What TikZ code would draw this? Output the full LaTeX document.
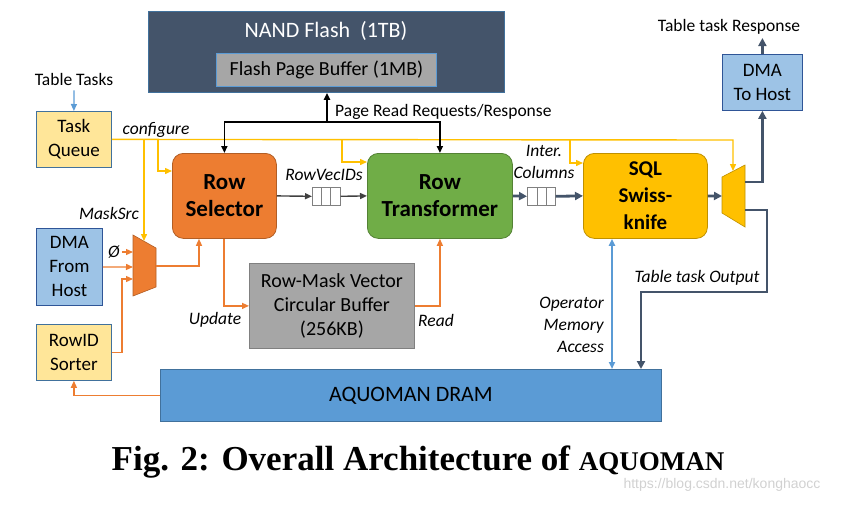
\documentclass[tikz,border=0pt]{standalone}
\usepackage{fontspec}
\setmainfont{Carlito}
\newfontfamily\capfont{Liberation Serif}
\newfontfamily\wmfont{Liberation Sans}
\usetikzlibrary{arrows.meta}
\definecolor{slate}{HTML}{44546A}
\definecolor{edgeblue}{HTML}{2F5597}
\definecolor{midblue}{HTML}{41719C}
\definecolor{skyblue}{HTML}{9DC3E6}
\definecolor{dramblue}{HTML}{5B9BD5}
\definecolor{taskyellow}{HTML}{FFE699}
\definecolor{rsorange}{HTML}{ED7D31}
\definecolor{rtgreen}{HTML}{70AD47}
\definecolor{sqlgold}{HTML}{FFC000}
\definecolor{bufgray}{HTML}{A6A6A6}

\begin{document}
\begin{tikzpicture}[x=1pt, y=-1pt,
    unit/.style={draw=edgeblue, line width=0.8pt, anchor=north west, inner sep=0pt,
        align=center, font=\fontsize{19}{24}\selectfont},
    engine/.style={draw=#1!75!black, fill=#1, line width=0.8pt, rounded corners=11pt,
        anchor=north west, inner sep=0pt, align=center,
        font=\fontsize{23}{27}\selectfont\bfseries},
    fifo/.style={draw=gray, fill=white, line width=0.6pt, anchor=north west,
        minimum width=28, minimum height=18, inner sep=0pt},
    lbl/.style={font=\fontsize{17.5}{22}\selectfont\itshape, inner sep=0pt},
    txt/.style={font=\fontsize{17.5}{21}\selectfont, inner sep=0pt},
    tip/.style={-{Triangle[length=7pt,width=6pt]}},
    cfg/.style={tip, draw=sqlgold, line width=1.4pt},
    org/.style={tip, draw=rsorange, line width=1.3pt},
    pagebus/.style={tip, draw=black, line width=1.8pt},
    vec/.style={tip, draw=black!75, line width=1.4pt},
    colbus/.style={-{Triangle[length=8pt,width=8pt]}, draw=slate, line width=2.8pt},
    membus/.style={{Triangle[length=7pt,width=6pt]}-{Triangle[length=7pt,width=6pt]},
        draw=dramblue, line width=1.8pt}]

% frame
\useasboundingbox (0,0) rectangle (841,504);

% NAND flash with its page buffer
\node[unit, draw=midblue, fill=slate, minimum width=356, minimum height=81] (nand) at (148,11) {};
\node[text=white, font=\fontsize{22}{24}\selectfont] (nandtxt) at (326,31) {NAND Flash\ \ (1TB)};
\node[unit, draw=dramblue, fill=bufgray, minimum width=220, minimum height=33,
    font=\fontsize{20}{22}\selectfont] (fpb) at (216,53) {Flash Page Buffer (1MB)};

% host side boxes
\node[unit, draw=midblue, fill=taskyellow, minimum width=75, minimum height=56] (tq) at (36,111) {Task\\Queue};
\node[unit, fill=skyblue, minimum width=66, minimum height=77] (dfh) at (36,228) {DMA\\From\\Host};
\node[unit, draw=midblue, fill=taskyellow, minimum width=75, minimum height=56] (rid) at (36,324) {RowID\\Sorter};
\node[unit, fill=skyblue, minimum width=80, minimum height=56] (dth) at (722,54) {DMA\\To Host};

% engines
\node[engine=rsorange, minimum width=104, minimum height=85] (rs) at (172,153) {Row\\Selector};
\node[engine=rtgreen, minimum width=145, minimum height=85] (rt) at (367,153) {Row\\Transformer};
\node[engine=sqlgold, minimum width=124, minimum height=85,
    font=\fontsize{21}{27}\selectfont\bfseries] (sql) at (583,153) {SQL\\Swiss-\\knife};

% buffer and dram
\node[unit, draw=gray, fill=bufgray, minimum width=165, minimum height=85,
    font=\fontsize{20}{24}\selectfont] (buf) at (249,263)
    {Row-Mask Vector\\Circular Buffer\\(256KB)};
\node[unit, draw=midblue, fill=dramblue, minimum width=501, minimum height=52,
    font=\fontsize{22}{24}\selectfont] (dram) at (160,369) {AQUOMAN DRAM};

% fifos
\node[fifo] (q1) at (312,187) {};
\node[fifo] (q2) at (527,187) {};
\draw[gray, line width=0.6pt] (321,187) -- (321,205) (330,187) -- (330,205)
    (537,187) -- (537,205) (546,187) -- (546,205);

% muxes
\coordinate (m1top) at (144,241);
\coordinate (m1a) at (133,252);
\coordinate (m1b) at (133,267);
\coordinate (m1c) at (133,279);
\coordinate (m1out) at (156,266);
\draw[fill=rsorange, draw=rsorange!75!black, line width=0.6pt]
    (133,235) -- (156,248) -- (156,287) -- (133,296) -- cycle;
\coordinate (m2top) at (733,171);
\coordinate (m2in) at (722,196);
\coordinate (m2a) at (745,182);
\coordinate (m2b) at (745,210);
\draw[fill=sqlgold, draw=sqlgold!75!black, line width=0.6pt]
    (722,177) -- (745,165) -- (745,227) -- (722,213) -- cycle;

% labels
\node[txt] (tt) at (74,79) {Table Tasks};
\node[txt] (ttr) at (729,27) {Table task Response};
\node[lbl] (cfgl) at (156,130) {configure};
\node[lbl] (msk) at (109,213) {MaskSrc};
\node[lbl] (phi) at (114,252) {Ø};
\node[lbl] (rvl) at (324,175) {RowVecIDs};
\node[lbl, align=center] (icl) at (544,162) {Inter.\\Columns};
\node[lbl] (upl) at (215,320) {Update};
\node[lbl] (rdl) at (436,320) {Read};
\node[lbl, align=right, anchor=east] (oma) at (604,325) {Operator\\Memory\\Access};
\node[lbl] (tto) at (697,278) {Table task Output};
\node[txt, anchor=west] (prl) at (335,112) {Page Read Requests/Response};

% host input
\draw[tip, draw=dramblue, line width=1.2pt] (tt.south) ++(0,-5pt) -- (tq.north);

% configure lines
\coordinate (c0) at (733,140);
\coordinate (c1) at (144,140);
\coordinate (c2) at (158,140);
\coordinate (c3) at (342,140);
\coordinate (c4) at (570,140);
\draw[cfg] (tq.east) -- (c0) -- (m2top);
\draw[cfg] (c1) -- (m1top);
\draw[cfg] (c2) |- ([yshift=-18pt]rs.north west);
\draw[cfg] (c3) |- ([yshift=-9pt]rt.north west);
\draw[cfg] (c4) |- ([yshift=-10pt]sql.north west);

% page read bus
\coordinate (pr) at (327,122);
\draw[pagebus] (pr) -- (pr |- nand.south);
\draw[pagebus] (pr) -| (rs.north);
\draw[pagebus] (pr) -| (rt.north);

% row vector path
\draw[vec] (rs.east) -- (q1.west);
\draw[vec] (q1.east) -- (rt.west);
\draw[colbus] (rt.east) -- (q2.west);
\draw[colbus] (q2.east) -- (sql.west);
\draw[colbus] (sql.east) -- (m2in);
\draw[colbus] (m2a) -| (dth.south);
\draw[colbus] (dth.north) -- ++(0,16pt) coordinate (resp);
\coordinate (o1) at (767,292);
\draw[colbus] (m2b) -| (o1) -| ([xshift=481pt]dram.north west);
\draw[membus] ([xshift=29pt]sql.south west) -- ([xshift=452pt]dram.north west);

% mask sources
\coordinate (j1) at (122,279);
\draw[org] (phi.east) ++(2pt,0) -- (m1a);
\draw[org] (dfh.east) -- (m1b);
\draw[org] (rid.east) -| (j1) -- (m1c);
\draw[org] (m1out) -| ([xshift=27pt]rs.south west);
\draw[org] ([xshift=52pt]rs.south west) |- (buf.west);
\draw[org] (buf.east) -| (rt.south);
\draw[org] (dram.west) -| (rid.south);

% caption
\node[font=\capfont\fontsize{35}{38}\selectfont\bfseries] (cap) at (418,462)
    {Fig. 2: Overall Architecture of {\fontsize{27}{30}\selectfont AQUOMAN}};
\node[text=black!18, font=\wmfont\fontsize{14}{16}\selectfont] (wm) at (722,485) {https://blog.csdn.net/konghaocc};
\end{tikzpicture}
\end{document}
